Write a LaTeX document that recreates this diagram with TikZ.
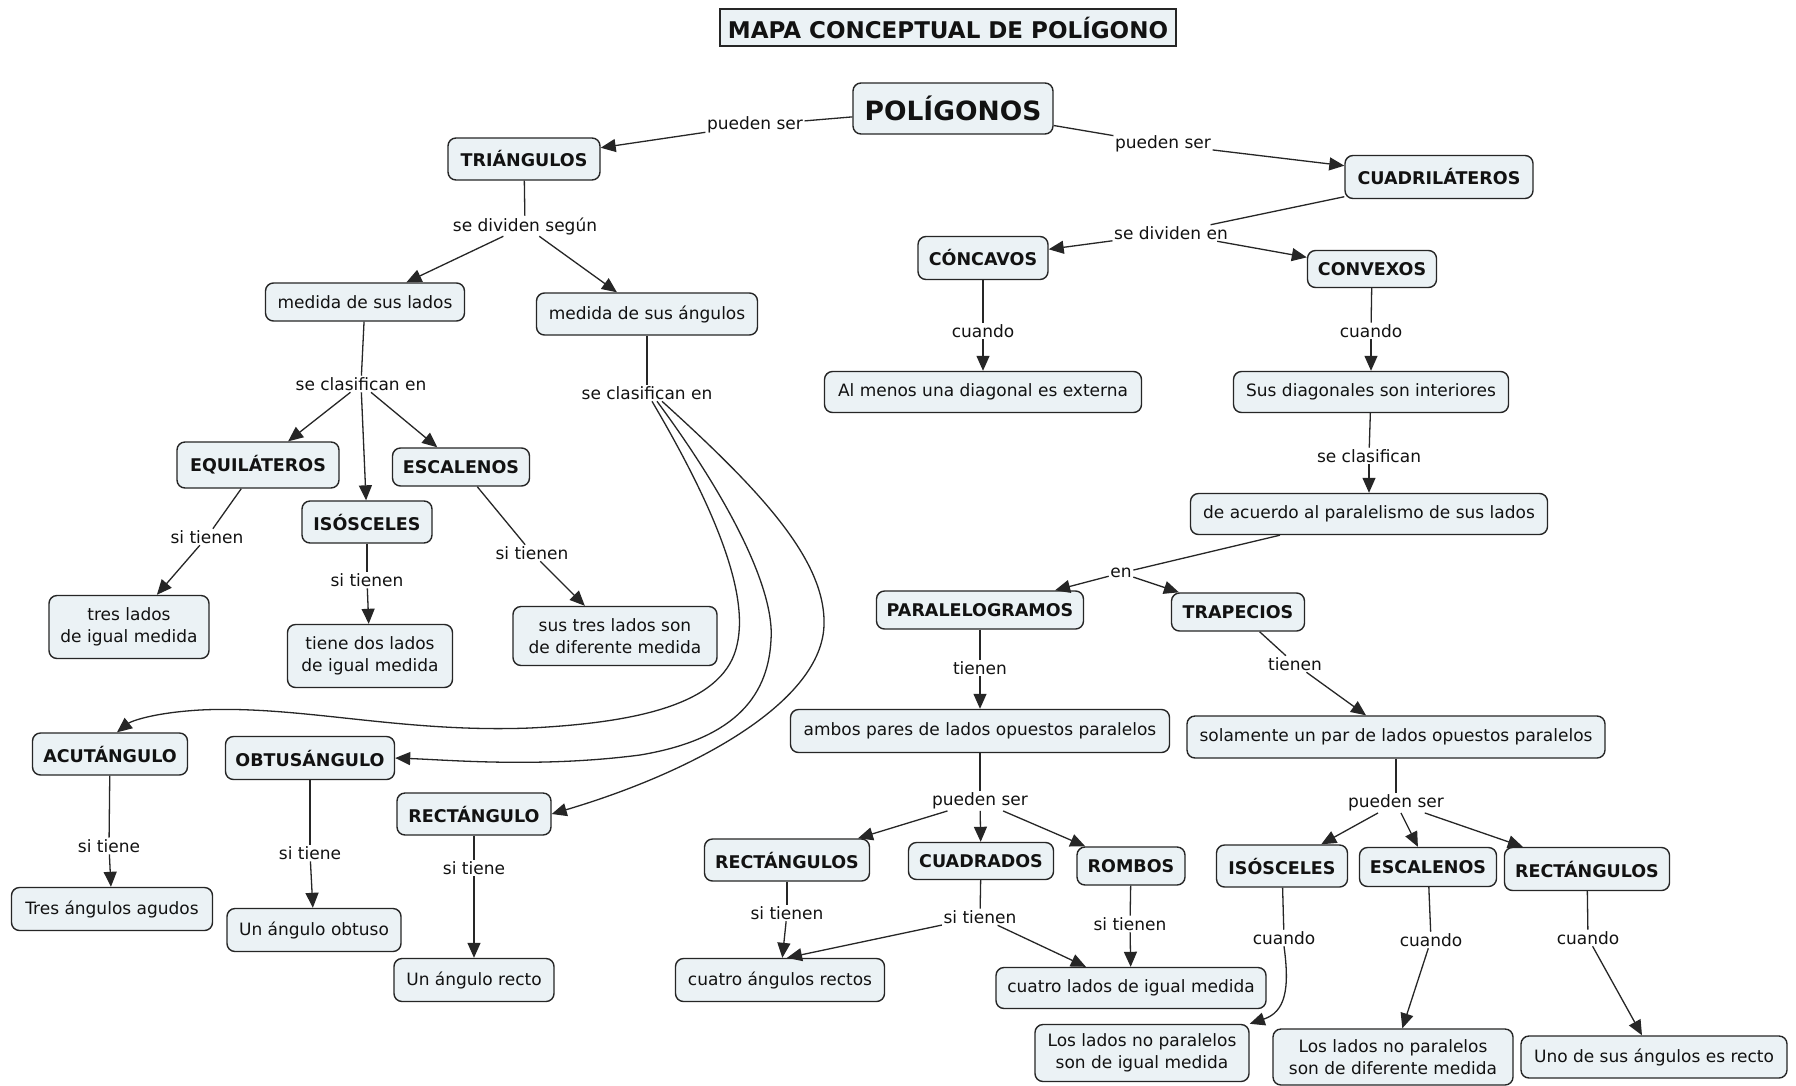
\documentclass[tikz,border=0pt]{standalone}
\usepackage{fontspec}
\setmainfont{DejaVu Sans}
\usetikzlibrary{arrows.meta}
\definecolor{cfill}{RGB}{235,242,245}
\definecolor{cline}{RGB}{38,38,38}
\definecolor{ctext}{RGB}{18,18,18}
\begin{document}
\begin{tikzpicture}[x=1pt,y=-1pt,
  concept/.style={draw=cline, line width=1.4pt, fill=cfill, rounded corners=8pt,
    inner sep=2pt, align=center, text=ctext, font=\fontsize{17}{21.5}\selectfont},
  bconcept/.style={concept, font=\fontsize{17.5}{21.5}\selectfont\bfseries},
  link/.style={inner sep=1.5pt, text=ctext, font=\fontsize{17}{20}\selectfont},
  con/.style={draw=cline, line width=1.3pt},
  arr/.style={con, -{Triangle[length=15pt,width=13pt]}},
]
\useasboundingbox[fill=white] (0,0) rectangle (1796,1085);

% title
\node[draw=cline, line width=1.4pt, fill=cfill, minimum width=456pt, minimum height=37pt,
  text=ctext, font=\fontsize{23}{26}\selectfont\bfseries] (title) at (948,27.5)
  {MAPA CONCEPTUAL DE POLÍGONO};

% concepts
\node[bconcept, font=\fontsize{26.5}{30}\selectfont\bfseries, minimum width=200pt, minimum height=51pt] (pol) at (953,108.5) {POLÍGONOS};
\node[bconcept, minimum width=152pt, minimum height=42pt] (tri) at (524,159) {TRIÁNGULOS};
\node[bconcept, minimum width=188pt, minimum height=43pt] (cuad) at (1439,177) {CUADRILÁTEROS};
\node[concept, minimum width=199pt, minimum height=38pt] (mlados) at (365,302) {medida de sus lados};
\node[concept, minimum width=221pt, minimum height=42pt] (mang) at (647,314) {medida de sus ángulos};
\node[bconcept, minimum width=162pt, minimum height=46pt] (equi) at (258,465) {EQUILÁTEROS};
\node[bconcept, minimum width=130pt, minimum height=42pt] (iso) at (367,522) {ISÓSCELES};
\node[bconcept, minimum width=137pt, minimum height=38pt] (esc) at (461,467) {ESCALENOS};
\node[concept, minimum width=160pt, minimum height=63pt] (tresl) at (129,627) {tres lados\\de igual medida};
\node[concept, minimum width=165pt, minimum height=63pt] (dosl) at (370,656) {tiene dos lados\\de igual medida};
\node[concept, minimum width=204pt, minimum height=59pt] (difl) at (615,636) {sus tres lados son\\de diferente medida};
\node[bconcept, minimum width=155pt, minimum height=42pt] (acu) at (110,754) {ACUTÁNGULO};
\node[bconcept, minimum width=169pt, minimum height=43pt] (obt) at (310,758) {OBTUSÁNGULO};
\node[bconcept, minimum width=154pt, minimum height=42pt] (rect) at (474,814) {RECTÁNGULO};
\node[concept, minimum width=201pt, minimum height=43pt] (agu) at (112,909) {Tres ángulos agudos};
\node[concept, minimum width=174pt, minimum height=43pt] (obtu) at (314,930) {Un ángulo obtuso};
\node[concept, minimum width=160pt, minimum height=43pt] (recto) at (474,980) {Un ángulo recto};
\node[bconcept, minimum width=130pt, minimum height=43pt] (conc) at (983,258) {CÓNCAVOS};
\node[bconcept, minimum width=129pt, minimum height=37pt] (conv) at (1372,269) {CONVEXOS};
\node[concept, minimum width=317pt, minimum height=41pt] (ext) at (983,392) {Al menos una diagonal es externa};
\node[concept, minimum width=275pt, minimum height=41pt] (inte) at (1371,392) {Sus diagonales son interiores};
\node[concept, minimum width=357pt, minimum height=41pt] (paral) at (1369,514) {de acuerdo al paralelismo de sus lados};
\node[bconcept, minimum width=207pt, minimum height=38pt] (parg) at (980,610) {PARALELOGRAMOS};
\node[bconcept, minimum width=133pt, minimum height=38pt] (trap) at (1238,612) {TRAPECIOS};
\node[concept, minimum width=379pt, minimum height=43pt] (ambos) at (980,731) {ambos pares de lados opuestos paralelos};
\node[concept, minimum width=418pt, minimum height=42pt] (solo) at (1396,737) {solamente un par de lados opuestos paralelos};
\node[bconcept, minimum width=165pt, minimum height=42pt] (rectq) at (787,860) {RECTÁNGULOS};
\node[bconcept, minimum width=145pt, minimum height=37pt] (cuadr) at (981,861) {CUADRADOS};
\node[bconcept, minimum width=108pt, minimum height=38pt] (romb) at (1131,866) {ROMBOS};
\node[concept, minimum width=209pt, minimum height=43pt] (car) at (780,980) {cuatro ángulos rectos};
\node[concept, minimum width=270pt, minimum height=41pt] (cli) at (1131,988) {cuatro lados de igual medida};
\node[bconcept, minimum width=131pt, minimum height=42pt] (isot) at (1282,866) {ISÓSCELES};
\node[bconcept, minimum width=137pt, minimum height=39pt] (esct) at (1428,867) {ESCALENOS};
\node[bconcept, minimum width=165pt, minimum height=43pt] (rectt) at (1587,869) {RECTÁNGULOS};
\node[concept, minimum width=214pt, minimum height=57pt] (lnp1) at (1142,1053) {Los lados no paralelos\\son de igual medida};
\node[concept, minimum width=240pt, minimum height=56pt] (lnp2) at (1393,1057) {Los lados no paralelos\\son de diferente medida};
\node[concept, minimum width=266pt, minimum height=42pt] (uno) at (1654,1057) {Uno de sus ángulos es recto};

% linking phrases
\node[link] (l1) at (755,125) {pueden ser};
\node[link] (l2) at (1163,144) {pueden ser};
\node[link] (l3) at (525,226) {se dividen según};
\node[link] (l4) at (1171,233) {se dividen en};
\node[link] (l5) at (361,384) {se clasifican en};
\node[link] (l6) at (647,393) {se clasifican en};
\node[link] (l7) at (207,537) {si tienen};
\node[link] (l8) at (367,580) {si tienen};
\node[link] (l9) at (532,553) {si tienen};
\node[link] (l10) at (109,846) {si tiene};
\node[link] (l11) at (310,853) {si tiene};
\node[link] (l12) at (474,868) {si tiene};
\node[link] (l13) at (983,331) {cuando};
\node[link] (l14) at (1371,331) {cuando};
\node[link] (l15) at (1369,456) {se clasifican};
\node[link] (l16) at (1121,573) {en};
\node[link] (l17) at (980,668) {tienen};
\node[link] (l18) at (1295,664) {tienen};
\node[link] (l19) at (980,801) {pueden ser};
\node[link] (l20) at (1396,803) {pueden ser};
\node[link] (l21) at (787,913) {si tienen};
\node[link] (l22) at (980,917) {si tienen};
\node[link] (l23) at (1130,924) {si tienen};
\node[link] (l24) at (1284,938) {cuando};
\node[link] (l25) at (1431,940) {cuando};
\node[link] (l26) at (1588,938) {cuando};

% connectors
\draw[con] (pol) -- (l1);   \draw[arr] (l1) -- (tri);
\draw[con] (pol) -- (l2);   \draw[arr] (l2) -- (cuad);
\draw[con] (tri) -- (l3);   \draw[arr] (l3) -- (mlados); \draw[arr] (l3) -- (mang);
\draw[con] (cuad) -- (l4);  \draw[arr] (l4) -- (conc);   \draw[arr] (l4) -- (conv);
\draw[con] (mlados) -- (l5);
\draw[arr] (l5) -- (equi);  \draw[arr] (l5) -- (iso);    \draw[arr] (l5) -- (esc);
\draw[con] (equi) -- (l7);  \draw[arr] (l7) -- (tresl);
\draw[con] (iso) -- (l8);   \draw[arr] (l8) -- (dosl);
\draw[con] (esc) -- (l9);   \draw[arr] (l9) -- (difl);
\draw[con] (mang) -- (l6);
\draw[arr] ([xshift=5pt]l6.south) .. controls (710,500) and (750,590) .. (737,645)
  .. controls (725,700) and (650,722) .. (530,728)
  .. controls (400,733) and (300,705) .. (200,710)
  .. controls (150,713) and (130,722) .. ([xshift=7pt]acu.north);
\draw[arr] ([xshift=10pt]l6.south) .. controls (730,500) and (775,590) .. (771,640)
  .. controls (768,700) and (730,740) .. (640,755)
  .. controls (540,768) and (450,760) .. (obt.east);
\draw[arr] ([xshift=15pt]l6.south) .. controls (760,490) and (826,560) .. (824,625)
  .. controls (822,700) and (700,770) .. (rect.east);
\draw[con] (acu) -- (l10);  \draw[arr] (l10) -- (agu);
\draw[con] (obt) -- (l11);  \draw[arr] (l11) -- (obtu);
\draw[con] (rect) -- (l12); \draw[arr] (l12) -- (recto);
\draw[con] (conc) -- (l13); \draw[arr] (l13) -- (ext);
\draw[con] (conv) -- (l14); \draw[arr] (l14) -- (inte);
\draw[con] (inte) -- (l15); \draw[arr] (l15) -- (paral);
\draw[con] (paral) -- (l16); \draw[arr] (l16) -- (parg); \draw[arr] (l16) -- (trap);
\draw[con] (parg) -- (l17); \draw[arr] (l17) -- (ambos);
\draw[con] (trap) -- (l18); \draw[arr] (l18) -- (solo);
\draw[con] (ambos) -- (l19);
\draw[arr] (l19) -- (rectq); \draw[arr] (l19) -- (cuadr); \draw[arr] (l19) -- (romb);
\draw[con] (solo) -- (l20);
\draw[arr] (l20) -- (isot); \draw[arr] (l20) -- (esct); \draw[arr] (l20) -- (rectt);
\draw[con] (rectq) -- (l21); \draw[arr] (l21) -- (car);
\draw[con] (cuadr) -- (l22); \draw[arr] (l22) -- ([xshift=7pt]car.north); \draw[arr] (l22) -- (cli);
\draw[con] (romb) -- (l23); \draw[arr] (l23) -- (cli);
\draw[con] (isot) -- (l24);
\draw[arr] (l24.south) .. controls (1290,990) and (1285,1012) .. (lnp1.north east);
\draw[con] (esct) -- (l25); \draw[arr] (l25) -- (lnp2);
\draw[con] (rectt) -- (l26); \draw[arr] (l26) -- (uno);
\end{tikzpicture}
\end{document}
